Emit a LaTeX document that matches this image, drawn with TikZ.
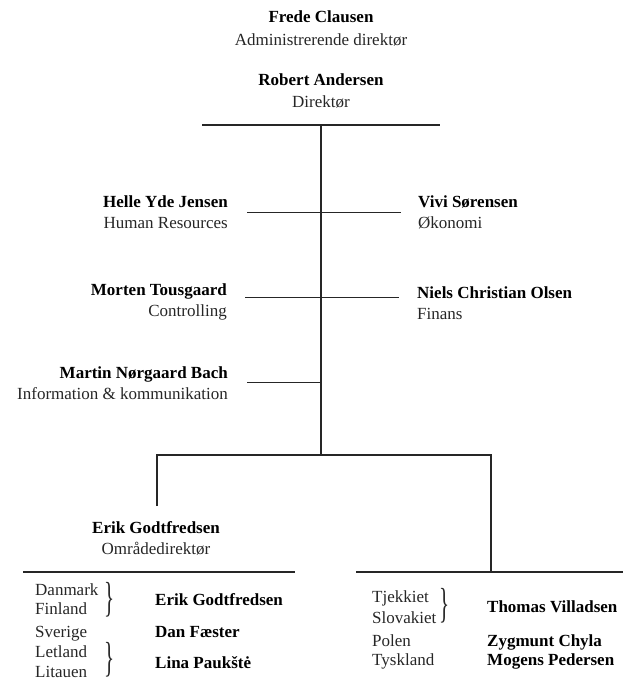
\documentclass[tikz,border=0pt]{standalone}
\usepackage{fontspec}
\setmainfont{Liberation Serif}
\begin{document}
\begin{tikzpicture}[x=1pt,y=-1pt,
  conn/.style={line width=1.2pt, draw=black!85},
  nm/.style={font=\fontsize{17}{20}\selectfont\bfseries, inner sep=0pt},
  tt/.style={font=\fontsize{17}{20}\selectfont, inner sep=0pt, text=black!85},
  brc/.style={font=\fontsize{42}{42}\selectfont, inner sep=0pt, text=black!85}
]
\useasboundingbox (0,0) rectangle (623,680);

% top titles
\node[nm, anchor=base] (fc) at (321,22) {Frede Clausen};
\node[tt, anchor=base] (fct) at (321,45) {Administrerende direktør};
\node[nm, anchor=base] (ra) at (321,85) {Robert Andersen};
\node[tt, anchor=base] (rat) at (321,107) {Direktør};

% staff
\node[nm, anchor=base east] (hj) at (228,207) {Helle Yde Jensen};
\node[tt, anchor=base east] (hjt) at (228,228) {Human Resources};
\node[nm, anchor=base west] (vs) at (418,207) {Vivi Sørensen};
\node[tt, anchor=base west] (vst) at (418,228) {Økonomi};
\node[nm, anchor=base east] (mt) at (227,295) {Morten Tousgaard};
\node[tt, anchor=base east] (mtt) at (227,316) {Controlling};
\node[nm, anchor=base west] (no) at (417,298) {Niels Christian Olsen};
\node[tt, anchor=base west] (not) at (417,319) {Finans};
\node[nm, anchor=base east] (mb) at (228,378) {Martin Nørgaard Bach};
\node[tt, anchor=base east] (mbt) at (228,399) {Information \& kommunikation};

% area director
\node[nm, anchor=base] (eg) at (156,533) {Erik Godtfredsen};
\node[tt, anchor=base] (egt) at (156,554) {Områdedirektør};

% left list
\node[tt, anchor=base west] (dk) at (35,595) {Danmark};
\node[tt, anchor=base west] (fi) at (35,614) {Finland};
\node[tt, anchor=base west] (se) at (35,637) {Sverige};
\node[tt, anchor=base west] (lv) at (35,657) {Letland};
\node[tt, anchor=base west] (lt) at (35,677) {Litauen};
\node[brc] (b1) at (110,600) {\scalebox{0.5}[1]{\}}};
\node[brc] (b2) at (110,660) {\scalebox{0.5}[1]{\}}};
\node[nm, anchor=base west] (eg2) at (155,605) {Erik Godtfredsen};
\node[nm, anchor=base west] (df) at (155,637) {Dan Fæster};
\node[nm, anchor=base west] (lp) at (155,668) {Lina Paukštė};

% right list
\node[tt, anchor=base west] (cz) at (372,602) {Tjekkiet};
\node[tt, anchor=base west] (sk) at (372,623) {Slovakiet};
\node[tt, anchor=base west] (pl) at (372,646) {Polen};
\node[tt, anchor=base west] (de) at (372,665) {Tyskland};
\node[brc] (b3) at (445,606) {\scalebox{0.5}[1]{\}}};
\node[nm, anchor=base west] (tv) at (487,612) {Thomas Villadsen};
\node[nm, anchor=base west] (zc) at (487,646) {Zygmunt Chyla};
\node[nm, anchor=base west] (mp) at (487,665) {Mogens Pedersen};

% line coordinates
\coordinate (tl) at (202,125);
\coordinate (tr) at (440,125);
\coordinate (tm) at (321,125);
\coordinate (bm) at (321,455);
\coordinate (l1a) at (247,212.5);
\coordinate (l1b) at (401,212.5);
\coordinate (l2a) at (245,297.5);
\coordinate (l2b) at (399,297.5);
\coordinate (l3a) at (247,382.5);
\coordinate (l3b) at (321,382.5);
\coordinate (brl) at (157,455);
\coordinate (brr) at (491,455);
\coordinate (dl) at (157,506);
\coordinate (dr) at (491,572);
\coordinate (ll) at (23,572);
\coordinate (lr) at (295,572);
\coordinate (rl) at (356,572);
\coordinate (rr) at (623,572);

\draw[conn] (tl) -- (tr);
\draw[conn] (tm) -- (bm);
\draw[conn] (l1a) -- (l1b);
\draw[conn] (l2a) -- (l2b);
\draw[conn] (l3a) -- (l3b);
\draw[conn] (dl) -- (brl) -- (brr) -- (dr);
\draw[conn] (ll) -- (lr);
\draw[conn] (rl) -- (rr);
\end{tikzpicture}
\end{document}
